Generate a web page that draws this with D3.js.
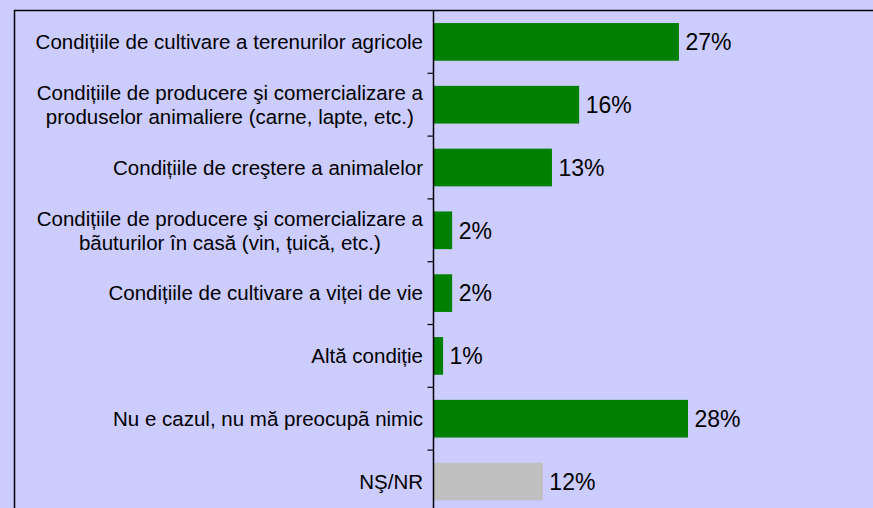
<!DOCTYPE html>
<html>
<head>
<meta charset="utf-8">
<script src="https://cdn.jsdelivr.net/npm/d3@7"></script>
<style>
  body { margin: 0; background: #CCCCFF; }
  svg { display: block; }
</style>
</head>
<body>
<div id="chart"></div>
<script>
// categories (each entry = lines of the label)
var categories = [
  ["Condițiile de cultivare a terenurilor agricole"],
  ["Condițiile de producere şi comercializare a", "produselor animaliere (carne, lapte, etc.)"],
  ["Condițiile de creştere a animalelor"],
  ["Condițiile de producere şi comercializare a", "bãuturilor în casă (vin, țuică, etc.)"],
  ["Condițiile de cultivare a viței de vie"],
  ["Altă condiție"],
  ["Nu e cazul, nu mă preocupã nimic"],
  ["NŞ/NR"]
];
var values = [27, 16, 13, 2, 2, 1, 28, 12];
var valueLabels = ["27%", "16%", "13%", "2%", "2%", "1%", "28%", "12%"];
var barColors = ["#008000", "#008000", "#008000", "#008000", "#008000", "#008000", "#008000", "#C0C0C0"];

var width = 873, height = 508;
var margin = { top: 10.5, left: 433.5 };
var plotBottom = 10.5 + 62.8 * 8;

var svg = d3.select("#chart").append("svg")
  .attr("width", width)
  .attr("height", height);

svg.append("rect")
  .attr("width", width).attr("height", height)
  .attr("fill", "#CCCCFF");

// plot frame (runs off the right and bottom edge)
svg.append("rect")
  .attr("x", 14.5).attr("y", 10.5)
  .attr("width", 1000).attr("height", 1000)
  .attr("fill", "none")
  .attr("stroke", "#000")
  .attr("stroke-width", 1.5);

var idx = d3.range(values.length);

var y = d3.scaleBand()
  .domain(idx)
  .range([margin.top, plotBottom])
  .paddingInner(0.4)
  .paddingOuter(0.2);

var x = d3.scaleLinear()
  .domain([0, 28])
  .range([margin.left, margin.left + 254]);

var g = svg.append("g");

g.selectAll("rect.bar")
  .data(idx)
  .enter().append("rect")
  .attr("class", "bar")
  .attr("x", x(0) + 0.5)
  .attr("y", function (i) { return y(i); })
  .attr("width", function (i) { return x(values[i]) - x(0); })
  .attr("height", y.bandwidth())
  .attr("fill", function (i) { return barColors[i]; });

g.selectAll("text.val")
  .data(idx)
  .enter().append("text")
  .attr("class", "val")
  .attr("x", function (i) { return x(values[i]) + 7; })
  .attr("y", function (i) { return y(i) + y.bandwidth() / 2; })
  .attr("dy", "0.36em")
  .style("font-family", "'Liberation Sans', Arial, sans-serif")
  .style("font-size", "23px")
  .attr("fill", "#000")
  .text(function (i) { return valueLabels[i]; });

// axis line with ticks at category boundaries
var step = y.step();
g.append("line")
  .attr("x1", margin.left).attr("x2", margin.left)
  .attr("y1", margin.top).attr("y2", height)
  .attr("stroke", "#000").attr("stroke-width", 1.5);

g.selectAll("line.tick")
  .data(d3.range(1, values.length))
  .enter().append("line")
  .attr("class", "tick")
  .attr("x1", margin.left - 6).attr("x2", margin.left)
  .attr("y1", function (k) { return y(k) - y.paddingInner() * step / 2; })
  .attr("y2", function (k) { return y(k) - y.paddingInner() * step / 2; })
  .attr("stroke", "#000").attr("stroke-width", 1.2);

// category labels: block is right aligned, lines centered within block
var labelRight = 423;
var lineH = 24;
var labels = g.selectAll("text.cat")
  .data(idx)
  .enter().append("text")
  .attr("class", "cat")
  .style("font-family", "'Liberation Sans', Arial, sans-serif")
  .style("font-size", "20.5px")
  .attr("fill", "#000")
  .attr("text-anchor", "middle");

labels.each(function (i) {
  var t = d3.select(this);
  var lines = categories[i];
  var cy = y(i) + y.bandwidth() / 2;
  lines.forEach(function (s, j) {
    t.append("tspan")
      .attr("y", cy + (j - (lines.length - 1) / 2) * lineH)
      .attr("dy", "0.36em")
      .text(s);
  });
  var w = d3.max(t.selectAll("tspan").nodes(), function (n) { return n.getComputedTextLength(); });
  t.selectAll("tspan").attr("x", labelRight - w / 2);
});
</script>
</body>
</html>
